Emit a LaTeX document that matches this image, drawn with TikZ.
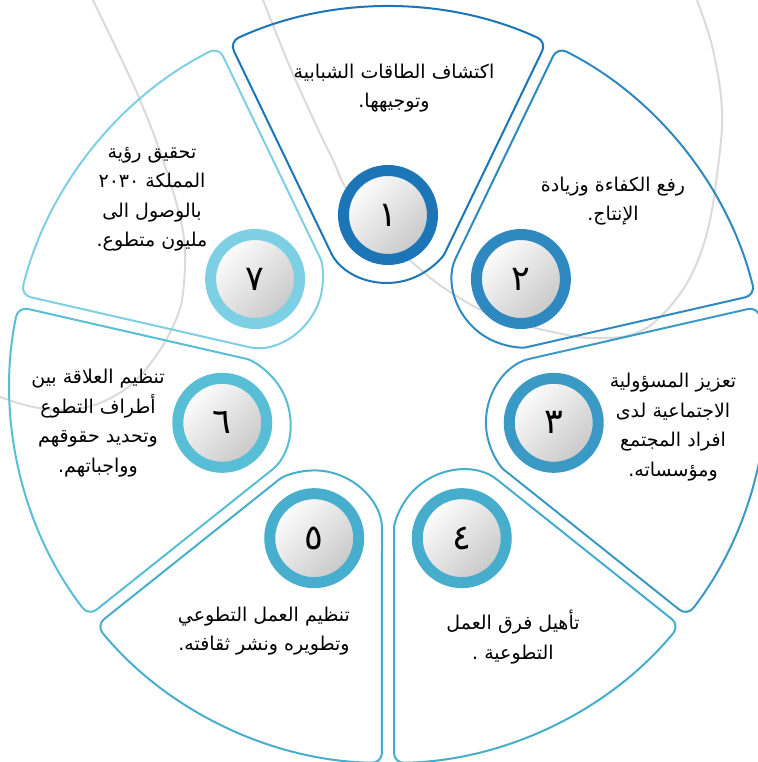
\documentclass[tikz,border=0pt]{standalone}
\usepackage{fontspec}
\newfontfamily\arabicfont[Script=Arabic]{DejaVu Sans}
\TeXXeTstate=1
\definecolor{c1}{HTML}{1B75B7}
\definecolor{c2}{HTML}{2E89C0}
\definecolor{c3}{HTML}{3A99C5}
\definecolor{c4}{HTML}{47ADCC}
\definecolor{c5}{HTML}{48AECD}
\definecolor{c6}{HTML}{58BED6}
\definecolor{c7}{HTML}{7DCFE4}
\definecolor{bgline}{HTML}{DADADA}
\newcommand\segshape{(343.13,-158.58) arc[start angle=-24.80, end angle=24.80, radius=378] -- (140.6,61.05) arc[start angle=115.71, end angle=244.29, radius=67.76] -- cycle}
\newcommand\ar[1]{\beginR #1\endR}
\tikzset{
  segline/.style={line width=2pt, rounded corners=10pt},
  greyline/.style={draw=bgline, line width=2pt},
  numdisc/.style={circle, minimum size=89pt, inner sep=0pt, line width=11pt,
    top color=white, bottom color=black!22, shading angle=45,
    font=\arabicfont\fontsize{35}{35}\selectfont},
  segtext/.style={align=center, inner sep=0pt, font=\arabicfont\fontsize{19}{29.5}\selectfont},
}
\begin{document}
\begin{tikzpicture}[x=1pt, y=1pt]
\useasboundingbox (-388,-377) rectangle (369,385);
% background grey curves
\begin{scope}
\clip (-388,-377) rectangle (369,385);
\draw[greyline] plot[smooth, tension=0.6] coordinates {(-305,410) (-295,385) (-271,335) (-248,285) (-225,225) (-208,168) (-203,132) (-205,92) (-211,68) (-228,35) (-255,2) (-288,-18) (-321,-25) (-355,-22) (-388,-12) (-400,-8)};
\draw[greyline] plot[smooth, tension=0.6] coordinates {(-135,410) (-125,385) (-98,318) (-71,258) (-55,225) (-41,195) (-10,155) (25,122) (59,95) (109,68) (179,50) (212,47) (242,50) (269,65) (299,102) (319,152) (330,218) (334,275) (325,335) (309,385) (300,405)};
\end{scope}
% segments
\draw[segline, draw=c1, rotate=90] \segshape;
\draw[segline, draw=c2, rotate=38.571] \segshape;
\draw[segline, draw=c3, rotate=-12.857] \segshape;
\draw[segline, draw=c4, rotate=-64.286] \segshape;
\draw[segline, draw=c5, rotate=-115.714] \segshape;
\draw[segline, draw=c6, rotate=-167.143] \segshape;
\draw[segline, draw=c7, rotate=141.429] \segshape;
% number circles
\node[numdisc, draw=c1] (n1) at (90:170) {١};
\node[numdisc, draw=c2] (n2) at (38.571:170) {٢};
\node[numdisc, draw=c3] (n3) at (-12.857:170) {٣};
\node[numdisc, draw=c4] (n4) at (-64.286:170) {٤};
\node[numdisc, draw=c5] (n5) at (-115.714:170) {٥};
\node[numdisc, draw=c6] (n6) at (-167.143:170) {٦};
\node[numdisc, draw=c7] (n7) at (141.429:170) {٧};
% texts
\node[segtext] (t1) at (6,297) {\ar{اكتشاف الطاقات الشبابية}\\\ar{وتوجيهها.}};
\node[segtext] (t2) at (225,184) {\ar{رفع الكفاءة وزيادة}\\\ar{الإنتاج.}};
\node[segtext] (t3) at (285,-42) {\ar{تعزيز المسؤولية}\\\ar{الاجتماعية لدى}\\\ar{افراد المجتمع}\\\ar{ومؤسساته.}};
\node[segtext] (t4) at (125,-252) {\ar{تأهيل فرق العمل}\\\ar{التطوعية .}};
\node[segtext] (t5) at (-124,-246) {\ar{تنظيم العمل التطوعي}\\\ar{وتطويره ونشر ثقافته.}};
\node[segtext] (t6) at (-290,-38) {\ar{تنظيم العلاقة بين}\\\ar{أطراف التطوع}\\\ar{وتحديد حقوقهم}\\\ar{وواجباتهم.}};
\node[segtext] (t7) at (-236,186) {\ar{تحقيق رؤية}\\\ar{المملكة \beginL٢٠٣٠\endL}\\\ar{بالوصول الى}\\\ar{مليون متطوع.}};
\end{tikzpicture}
\end{document}
